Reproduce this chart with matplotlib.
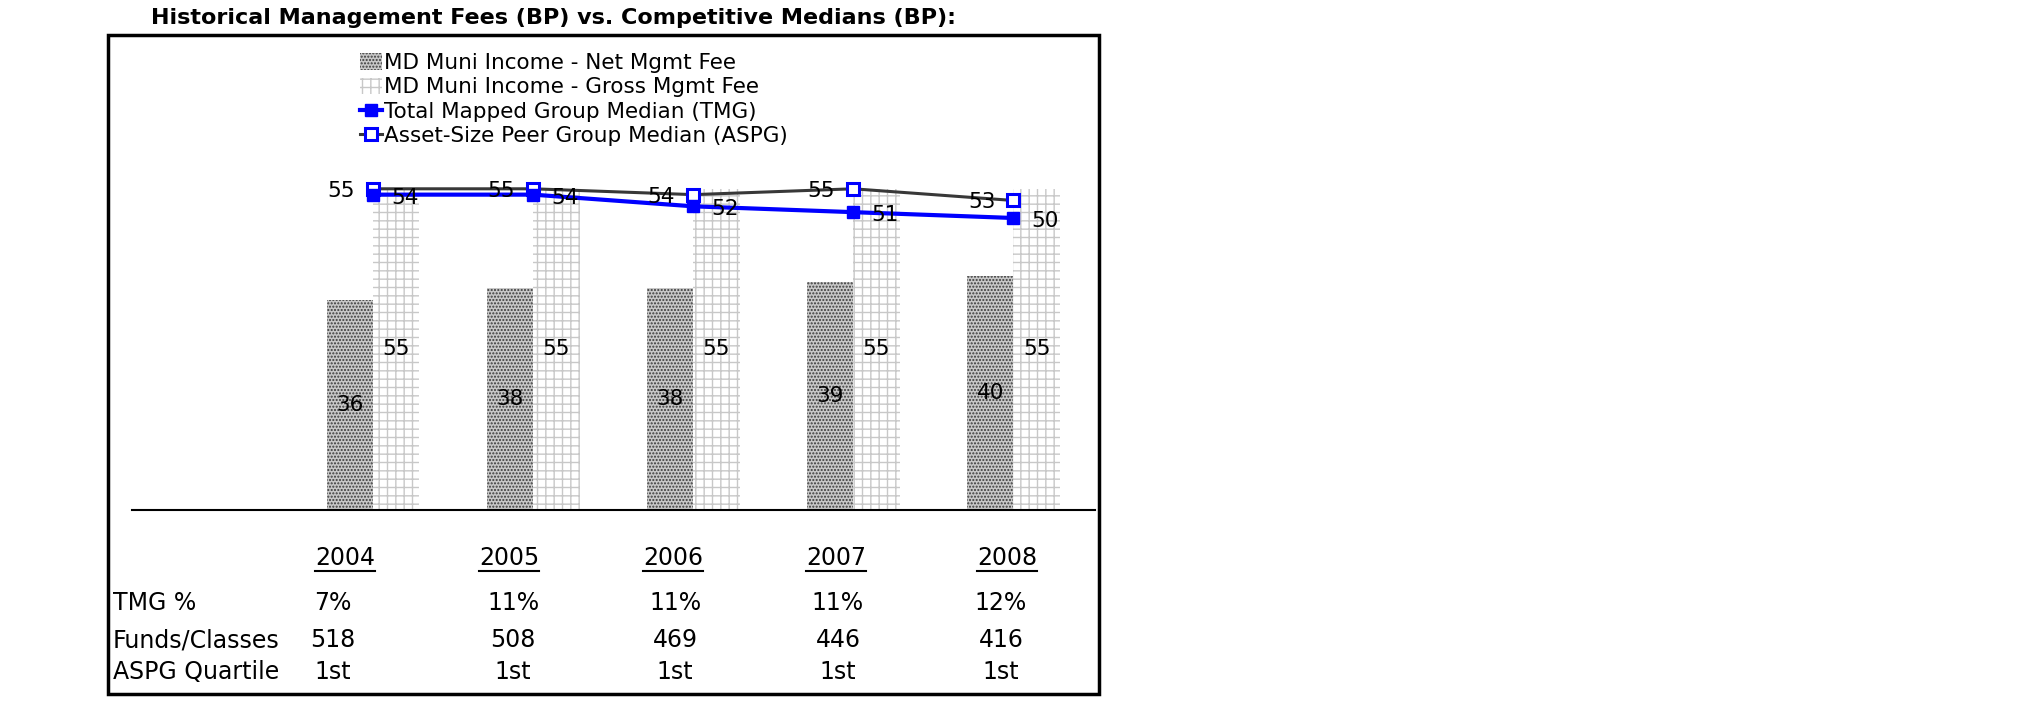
import matplotlib
matplotlib.use("Agg")
import matplotlib.pyplot as plt
from matplotlib.patches import Rectangle, Patch
from matplotlib.lines import Line2D
import numpy as np

plt.rcParams['font.family'] = ['DejaVu Sans']
plt.rcParams['hatch.linewidth'] = 1.0

years = ['2004', '2005', '2006', '2007', '2008']
net_fee = [36, 38, 38, 39, 40]
gross_fee = [55, 55, 55, 55, 55]
tmg_median = [54, 54, 52, 51, 50]
aspg_median = [55, 55, 54, 55, 53]

row_labels = ['TMG %', 'Funds/Classes', 'ASPG Quartile']
tmg_pct = ['7%', '11%', '11%', '11%', '12%']
funds_classes = ['518', '508', '469', '446', '416']
aspg_quartile = ['1st', '1st', '1st', '1st', '1st']

W, H = 2025, 717
fig = plt.figure(figsize=(W / 100, H / 100), dpi=100)


def fx(px):
    return px / W


def fy(py):
    return 1 - py / H


# plotting area: baseline at y=510px, scale ~5.84 px per bp
ax = fig.add_axes([fx(132), fy(510), fx(1095 - 132), (510 - 40) / H])
ax.set_xlim(-1.506, 4.51)
ax.set_ylim(0, 470 / 5.84)
for s in ['top', 'left', 'right']:
    ax.spines[s].set_visible(False)
ax.spines['bottom'].set_linewidth(1.5)
ax.set_xticks([])
ax.set_yticks([])

x = np.arange(len(years))
w = 0.29
net_style = dict(facecolor='#c8c8c8', edgecolor='#3a3a3a', hatch='.....', linewidth=0)
gross_style = dict(facecolor='white', edgecolor='#c8c8c8', hatch='++', linewidth=0)
ax.bar(x - w / 2, net_fee, w, **net_style)
ax.bar(x + w / 2, gross_fee, w, **gross_style)

ax.plot(x, aspg_median, color='#383838', lw=2.2, marker='s', ms=8.5,
        mfc='white', mec='#0000ff', mew=2.2, zorder=3)
ax.plot(x, tmg_median, color='#0000ff', lw=3, marker='s', ms=9,
        mfc='#0000ff', mec='#0000ff', zorder=4)

lab_fs = 15.5
for i in range(len(years)):
    ax.text(x[i] - w / 2, net_fee[i] / 2, str(net_fee[i]), ha='center', va='center', fontsize=lab_fs)
    ax.text(x[i] + w / 2, gross_fee[i] / 2, str(gross_fee[i]), ha='center', va='center', fontsize=lab_fs)
    ax.annotate(str(aspg_median[i]), (x[i], aspg_median[i]), xytext=(-18, -2),
                textcoords='offset pixels', ha='right', va='center', fontsize=lab_fs, zorder=5)
    ax.annotate(str(tmg_median[i]), (x[i], tmg_median[i]), xytext=(18, -3),
                textcoords='offset pixels', ha='left', va='center', fontsize=lab_fs, zorder=5)

# legend
handles = [
    Patch(**net_style),
    Patch(**gross_style),
    Line2D([], [], color='#0000ff', lw=3, marker='s', ms=9, mfc='#0000ff', mec='#0000ff'),
    Line2D([], [], color='#383838', lw=2.2, marker='s', ms=8.5, mfc='white', mec='#0000ff', mew=2.2),
]
labels = ['MD Muni Income - Net Mgmt Fee', 'MD Muni Income - Gross Mgmt Fee',
          'Total Mapped Group Median (TMG)', 'Asset-Size Peer Group Median (ASPG)']
fig.legend(handles, labels, loc='upper left', bbox_to_anchor=(fx(360), fy(53)),
           frameon=False, fontsize=15.5, handlelength=1.0, handleheight=0.8,
           handletextpad=0.1, labelspacing=0.2, borderpad=0, borderaxespad=0)

# title and frame
fig.text(fx(151), fy(18), 'Historical Management Fees (BP) vs. Competitive Medians (BP):',
         fontsize=16, fontweight='bold', va='center', ha='left')
fig.add_artist(Rectangle((fx(108), fy(694)), fx(1099 - 108), (694 - 35) / H,
                         transform=fig.transFigure, fill=False, lw=2.5, edgecolor='black'))

# data table under the chart
year_x = [345, 509, 673, 836, 1007]
col_x = [333, 513, 675, 838, 1001]
row_y = [603, 640, 672]
tab_fs = 17

year_texts = []
for xi, yr in zip(year_x, years):
    year_texts.append(fig.text(fx(xi), fy(558), yr, fontsize=tab_fs, ha='center', va='center'))

for ry, rl, vals in zip(row_y, row_labels, [tmg_pct, funds_classes, aspg_quartile]):
    fig.text(fx(113), fy(ry), rl, fontsize=tab_fs, ha='left', va='center')
    for xi, v in zip(col_x, vals):
        fig.text(fx(xi), fy(ry), v, fontsize=tab_fs, ha='center', va='center')

# underline the year headers
fig.canvas.draw()
inv = fig.transFigure.inverted()
for t in year_texts:
    bb = t.get_window_extent()
    (x0, y0), (x1, _) = inv.transform([(bb.x0, bb.y0 - 1), (bb.x1, bb.y0 - 1)])
    fig.add_artist(Line2D([x0, x1], [y0, y0], transform=fig.transFigure, color='black', lw=1.5))

fig.savefig('out.png', dpi=100)
